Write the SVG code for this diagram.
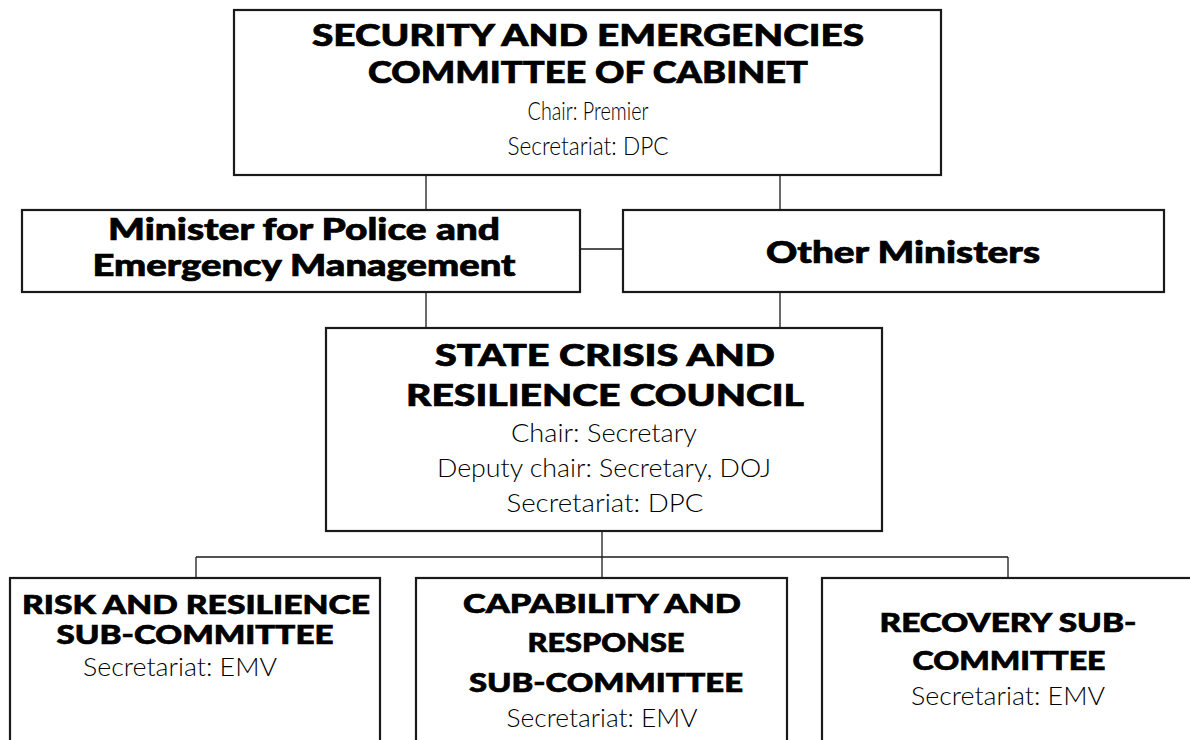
<svg xmlns="http://www.w3.org/2000/svg" width="1190" height="740" viewBox="0 0 1190 740">
<style>
.box{fill:#fff;stroke:#1a1a1a;stroke-width:2.2}
.conn line{stroke:#1a1a1a;stroke-width:1.3}
.b{font-family:Lato,"Liberation Sans",sans-serif;font-weight:900;fill:#000;stroke:#000;stroke-width:0.7;text-anchor:middle}
.l{font-family:Lato,"Liberation Sans",sans-serif;font-weight:300;fill:#000;text-anchor:middle}
</style>
<rect width="1190" height="740" fill="#fff"/>
<g class="conn" id="connectors">
<line x1="426" y1="175" x2="426" y2="210"/>
<line x1="780" y1="175" x2="780" y2="210"/>
<line x1="580" y1="249" x2="623" y2="249"/>
<line x1="426" y1="292" x2="426" y2="328"/>
<line x1="780" y1="292" x2="780" y2="328"/>
<line x1="602" y1="531" x2="602" y2="557"/>
<line x1="196" y1="557" x2="1008" y2="557"/>
<line x1="196" y1="557" x2="196" y2="578"/>
<line x1="602" y1="557" x2="602" y2="578"/>
<line x1="1008" y1="557" x2="1008" y2="578"/>
</g>
<g id="cabinet">
<rect class="box" x="234" y="10" width="707" height="165"/>
<text class="b" x="588" y="46" font-size="31" textLength="552" lengthAdjust="spacingAndGlyphs">SECURITY AND EMERGENCIES</text>
<text class="b" x="588" y="83" font-size="31" textLength="440" lengthAdjust="spacingAndGlyphs">COMMITTEE OF CABINET</text>
<text class="l" x="588" y="120" font-size="26" textLength="121" lengthAdjust="spacingAndGlyphs">Chair: Premier</text>
<text class="l" x="588" y="155" font-size="26" textLength="161" lengthAdjust="spacingAndGlyphs">Secretariat: DPC</text>
</g>
<g id="minister-police">
<rect class="box" x="22" y="210" width="558" height="82"/>
<text class="b" x="304" y="240" font-size="30" textLength="392" lengthAdjust="spacingAndGlyphs">Minister for Police and</text>
<text class="b" x="304" y="276" font-size="30" textLength="423" lengthAdjust="spacingAndGlyphs">Emergency Management</text>
</g>
<g id="other-ministers">
<rect class="box" x="623" y="210" width="541" height="82"/>
<text class="b" x="903" y="263" font-size="30" textLength="274" lengthAdjust="spacingAndGlyphs">Other Ministers</text>
</g>
<g id="council">
<rect class="box" x="326" y="328" width="556" height="203"/>
<text class="b" x="605" y="366" font-size="31" textLength="340" lengthAdjust="spacingAndGlyphs">STATE CRISIS AND</text>
<text class="b" x="605" y="406" font-size="31" textLength="398" lengthAdjust="spacingAndGlyphs">RESILIENCE COUNCIL</text>
<text class="l" x="604" y="442" font-size="26" textLength="186" lengthAdjust="spacingAndGlyphs">Chair: Secretary</text>
<text class="l" x="604" y="477" font-size="26" textLength="334" lengthAdjust="spacingAndGlyphs">Deputy chair: Secretary, DOJ</text>
<text class="l" x="605" y="512" font-size="26" textLength="197" lengthAdjust="spacingAndGlyphs">Secretariat: DPC</text>
</g>
<g id="risk">
<rect class="box" x="10" y="578" width="370" height="180"/>
<text class="b" x="196" y="614" font-size="27" textLength="348" lengthAdjust="spacingAndGlyphs">RISK AND RESILIENCE</text>
<text class="b" x="195" y="644" font-size="27" textLength="277" lengthAdjust="spacingAndGlyphs">SUB-COMMITTEE</text>
<text class="l" x="180" y="676" font-size="25" textLength="194" lengthAdjust="spacingAndGlyphs">Secretariat: EMV</text>
</g>
<g id="capability">
<rect class="box" x="416" y="578" width="371" height="180"/>
<text class="b" x="602" y="613" font-size="27" textLength="278" lengthAdjust="spacingAndGlyphs">CAPABILITY AND</text>
<text class="b" x="606" y="652" font-size="27" textLength="157" lengthAdjust="spacingAndGlyphs">RESPONSE</text>
<text class="b" x="606" y="692" font-size="27" textLength="274" lengthAdjust="spacingAndGlyphs">SUB-COMMITTEE</text>
<text class="l" x="602" y="727" font-size="26" textLength="191" lengthAdjust="spacingAndGlyphs">Secretariat: EMV</text>
</g>
<g id="recovery">
<rect class="box" x="822" y="578" width="380" height="180"/>
<text class="b" x="1008" y="632" font-size="27" textLength="257" lengthAdjust="spacingAndGlyphs">RECOVERY SUB-</text>
<text class="b" x="1009" y="670" font-size="27" textLength="193" lengthAdjust="spacingAndGlyphs">COMMITTEE</text>
<text class="l" x="1008" y="705" font-size="26" textLength="194" lengthAdjust="spacingAndGlyphs">Secretariat: EMV</text>
</g>
</svg>
